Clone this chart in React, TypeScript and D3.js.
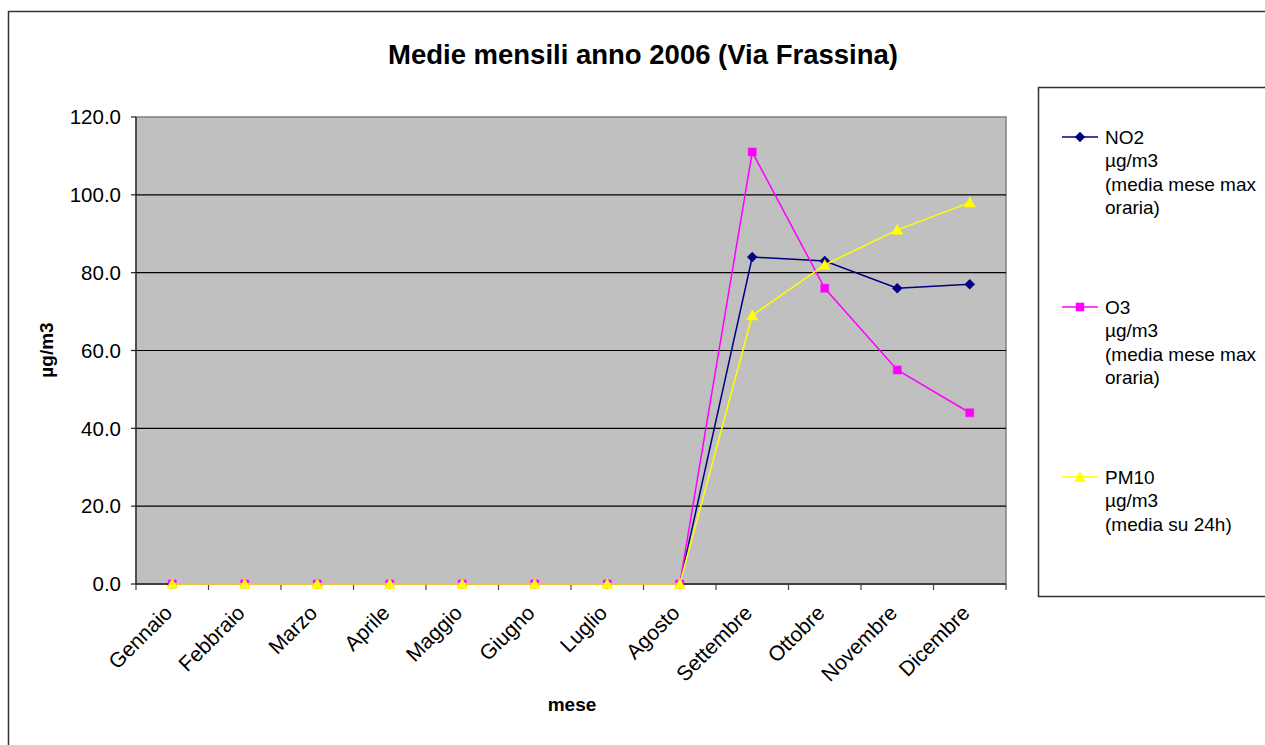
import React from "react";
import * as d3 from "d3";

const months = ["Gennaio","Febbraio","Marzo","Aprile","Maggio","Giugno","Luglio","Agosto","Settembre","Ottobre","Novembre","Dicembre"];
const no2 = [0,0,0,0,0,0,0,0,84,83,76,77];
const o3 = [0,0,0,0,0,0,0,0,111,76,55,44];
const pm10 = [0,0,0,0,0,0,0,0,69,82,91,98];
const yTicks = [0,20,40,60,80,100,120];
const title = "Medie mensili anno 2006 (Via Frassina)";
const legendLabels = [
  ["NO2", "µg/m3", "(media mese max", "oraria)"],
  ["O3", "µg/m3", "(media mese max", "oraria)"],
  ["PM10", "µg/m3", "(media su 24h)"],
];

const W = 1265, H = 745;
const L = 136, R = 1006, T = 117, B = 584;
const font = "'Liberation Sans', Arial, sans-serif";

export default function App() {
  const x = d3.scaleBand<string>().domain(months).range([L, R]);
  const y = d3.scaleLinear().domain([0, 120]).range([B, T]);
  const cx = (m: string) => (x(m) as number) + x.bandwidth() / 2;
  const line = d3.line<number>().x((_, i) => cx(months[i])).y(d => y(d));

  const series = [
    { data: no2, color: "#000080", marker: "diamond" },
    { data: o3, color: "#FF00FF", marker: "square" },
    { data: pm10, color: "#FFFF00", marker: "triangle" },
  ];

  const markerPath = (type: string) => {
    if (type === "diamond") return "M0,-5L5,0L0,5L-5,0Z";
    if (type === "square") return "M-4,-4L4,-4L4,4L-4,4Z";
    return "M0,-5.5L5.5,4.5L-5.5,4.5Z";
  };

  const legendY = [137, 307, 477];

  return (
    <svg width={W} height={H} style={{ position: "absolute", left: 0, top: 0, background: "#fff" }} fontFamily={font}>
      <rect x={8.5} y={11.5} width={W + 10} height={H + 10} fill="#fff" stroke="#333" strokeWidth={1.5} />
      <text x={643} y={64} textAnchor="middle" fontSize={27.5} fontWeight="bold" fill="#000">{title}</text>

      <rect x={L} y={T} width={R - L} height={B - T} fill="#C0C0C0" stroke="#808080" strokeWidth={1.5} />
      {yTicks.filter(t => t > 0 && t < 120).map(t => (
        <line key={t} x1={L} x2={R} y1={y(t)} y2={y(t)} stroke="#000" strokeWidth={1.2} />
      ))}
      {/* y axis */}
      <line x1={L} x2={L} y1={T} y2={B} stroke="#222" strokeWidth={1.2} />
      {yTicks.map(t => (
        <g key={t}>
          <line x1={L - 5} x2={L} y1={y(t)} y2={y(t)} stroke="#222" strokeWidth={1.2} />
          <text x={121} y={y(t)} dy="0.35em" textAnchor="end" fontSize={20.5} fill="#000">{t.toFixed(1)}</text>
        </g>
      ))}
      {/* x axis */}
      <line x1={L} x2={R} y1={B} y2={B} stroke="#222" strokeWidth={1.5} />
      {months.map(m => (
        <line key={"t" + m} x1={x(m)} x2={x(m)} y1={B} y2={B + 6} stroke="#444" strokeWidth={1.2} />
      ))}
      <line x1={R} x2={R} y1={B} y2={B + 6} stroke="#444" strokeWidth={1.2} />
      {months.map(m => (
        <text key={m} transform={`translate(${cx(m) - 4},${B + 25}) rotate(-45)`} textAnchor="end" dy="0.35em" fontSize={21} fill="#000">{m}</text>
      ))}
      <text x={572} y={711} textAnchor="middle" fontSize={19} fontWeight="bold">mese</text>
      <text transform={`translate(53,350) rotate(-90)`} textAnchor="middle" fontSize={19} fontWeight="bold">µg/m3</text>

      {series.map((s, si) => (
        <g key={si}>
          <path d={line(s.data) as string} fill="none" stroke={s.color} strokeWidth={1.5} />
          {s.data.map((v, i) => (
            <path key={i} d={markerPath(s.marker)} transform={`translate(${cx(months[i])},${y(v)})`} fill={s.color} stroke={s.color} strokeWidth={0.5} />
          ))}
        </g>
      ))}

      {/* legend */}
      <rect x={1038.5} y={87.5} width={240} height={509} fill="#fff" stroke="#333" strokeWidth={1.5} />
      {series.map((s, si) => (
        <g key={si}>
          <line x1={1062} x2={1098} y1={legendY[si]} y2={legendY[si]} stroke={s.color} strokeWidth={1.5} />
          <path d={markerPath(s.marker)} transform={`translate(1080,${legendY[si]})`} fill={s.color} stroke={s.color} strokeWidth={0.5} />
          {legendLabels[si].map((t, li) => (
            <text key={li} x={1105} y={legendY[si] + li * 23.5} dy="0.35em" fontSize={19} fill="#000">{t}</text>
          ))}
        </g>
      ))}
    </svg>
  );
}
